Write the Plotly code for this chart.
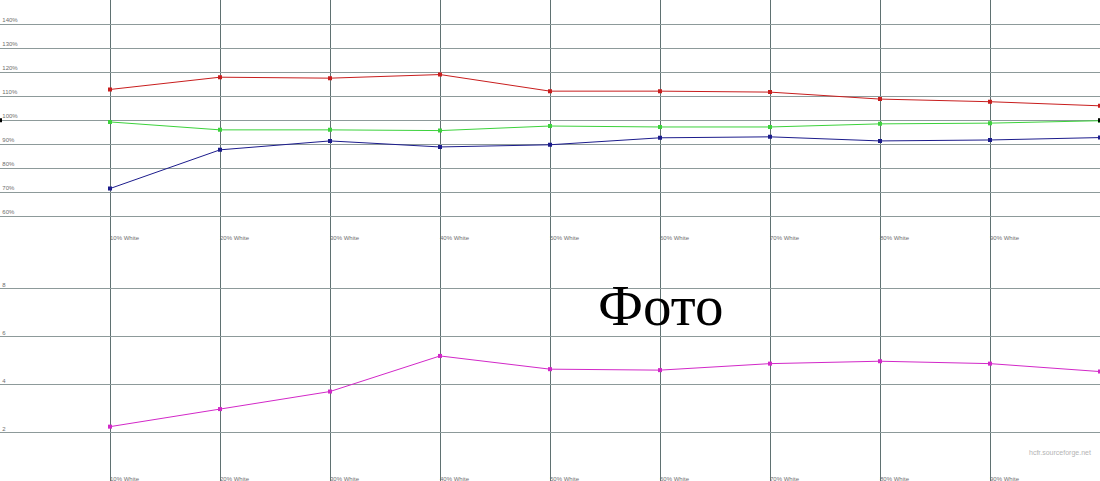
import plotly.graph_objects as go
from plotly.subplots import make_subplots

x_vals = [10, 20, 30, 40, 50, 60, 70, 80, 90, 100]
x_labels = ["10% White", "20% White", "30% White", "40% White", "50% White",
            "60% White", "70% White", "80% White", "90% White", "100% White"]

red_vals = [112.8, 117.9, 117.5, 119.0, 112.1, 112.1, 111.7, 108.8, 107.7, 106.0]
green_vals = [99.3, 96.0, 96.0, 95.7, 97.6, 97.2, 97.2, 98.5, 98.8, 99.8]
blue_vals = [71.6, 87.7, 91.4, 88.9, 89.8, 92.7, 93.1, 91.4, 91.8, 92.8]
ref_x = [0, 100]
ref_vals = [100, 100]

magenta_vals = [2.26, 2.99, 3.72, 5.20, 4.65, 4.61, 4.88, 4.98, 4.88, 4.55]

top_ticks = [60, 70, 80, 90, 100, 110, 120, 130, 140]
top_tick_text = ["60%", "70%", "80%", "90%", "100%", "110%", "120%", "130%", "140%"]
bottom_ticks = [2, 4, 6, 8]
bottom_tick_text = ["2", "4", "6", "8"]

fig = make_subplots(rows=2, cols=1, vertical_spacing=0)

def line_trace(xv, yv, color):
    return go.Scatter(x=xv, y=yv, mode="lines+markers",
                      line=dict(color=color, width=1),
                      marker=dict(symbol="square", size=4, color=color),
                      showlegend=False, hoverinfo="x+y")

fig.add_trace(line_trace(x_vals, red_vals, "#c81e1e"), row=1, col=1)
fig.add_trace(line_trace(x_vals, green_vals, "#3cd23c"), row=1, col=1)
fig.add_trace(line_trace(x_vals, blue_vals, "#1c1c8c"), row=1, col=1)
fig.add_trace(go.Scatter(x=ref_x, y=ref_vals, mode="markers",
                         marker=dict(symbol="square", size=4, color="#000000"),
                         showlegend=False, cliponaxis=False), row=1, col=1)
fig.add_trace(line_trace(x_vals, magenta_vals, "#d228c8"), row=2, col=1)

grid_v = "#5f7171"
grid_h = "#8d9a9a"
tick_font = dict(family="Liberation Sans, Arial, sans-serif", size=6, color="#6e6e6e")

for r in (1, 2):
    fig.update_xaxes(range=[0, 100], tickvals=x_vals, ticktext=x_labels,
                     showgrid=True, gridcolor=grid_v, gridwidth=1,
                     ticklabelposition="inside right", ticks="",
                     ticklabelstandoff=-7,
                     tickfont=tick_font, zeroline=False, showline=False,
                     automargin=False,
                     row=r, col=1)

fig.update_yaxes(range=[50, 150], tickvals=top_ticks, ticktext=top_tick_text,
                 showgrid=True, gridcolor=grid_h, gridwidth=1,
                 ticklabelposition="inside top", ticks="",
                 tickfont=tick_font, zeroline=False,
                 showline=True, linecolor=grid_v, linewidth=1,
                 automargin=False,
                 row=1, col=1)
fig.update_yaxes(range=[0, 10], tickvals=bottom_ticks, ticktext=bottom_tick_text,
                 showgrid=True, gridcolor=grid_h, gridwidth=1,
                 ticklabelposition="inside top", ticks="",
                 tickfont=tick_font, zeroline=False,
                 showline=True, linecolor=grid_v, linewidth=1,
                 automargin=False,
                 row=2, col=1)

fig.update_layout(
    width=1100, height=481,
    margin=dict(l=0, r=0, t=0, b=0),
    paper_bgcolor="white", plot_bgcolor="white",
    yaxis=dict(domain=[0.5, 1.0]),
    yaxis2=dict(domain=[0.0, 0.5]),
    annotations=[
        dict(text="Фото", x=60.0, y=7.3, xref="x2", yref="y2",
             showarrow=False,
             font=dict(family="Liberation Serif, Times New Roman, serif",
                       size=57, color="#000000")),
        dict(text="hcfr.sourceforge.net", x=0.994, y=1.18, xref="paper", yref="y2",
             xanchor="right", showarrow=False,
             font=dict(family="Liberation Sans, Arial, sans-serif", size=7,
                       color="#b4b4b4")),
    ],
)

fig.write_html(
    "out.html",
    config={"displayModeBar": False},
    post_script="document.body.style.margin='0';document.body.style.overflow='hidden';",
)
